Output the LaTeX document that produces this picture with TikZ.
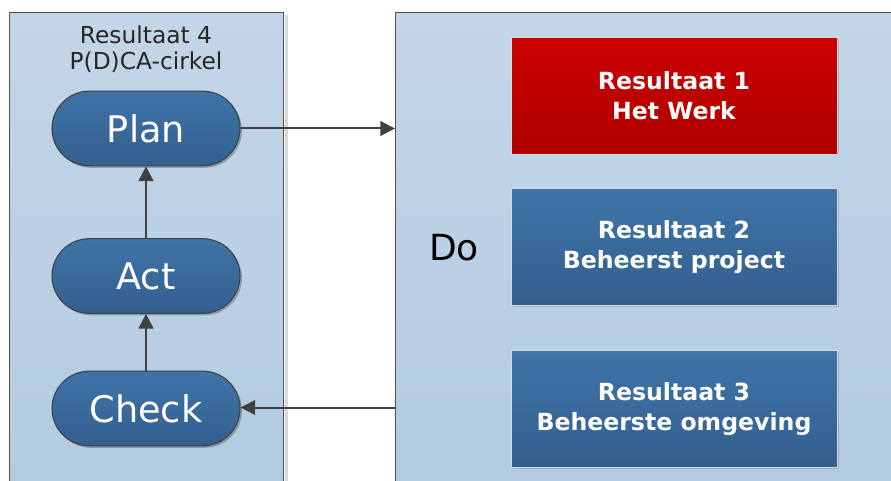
\documentclass[tikz,border=0pt]{standalone}
\usepackage{fontspec}
\setmainfont{DejaVu Sans}
\usetikzlibrary{arrows.meta,shadows}
\definecolor{panelTop}{HTML}{C3D6E8}
\definecolor{panelBot}{HTML}{B2CBE1}
\definecolor{pillTop}{HTML}{3F74A8}
\definecolor{pillBot}{HTML}{335F8E}
\definecolor{redTop}{HTML}{CC0000}
\definecolor{redBot}{HTML}{AE0000}
\definecolor{edge}{HTML}{505050}
\definecolor{arr}{HTML}{404040}
\tikzset{
  panel/.style={draw=edge, line width=0.9pt, top color=panelTop, bottom color=panelBot, inner sep=0pt},
  pill/.style={draw=black!75, line width=0.8pt, top color=pillTop, bottom color=pillBot,
    rounded corners=28pt, minimum width=141pt, minimum height=56pt, inner sep=0pt,
    text=white, font=\fontsize{27.5}{30}\selectfont,
    drop shadow={shadow xshift=1.5pt, shadow yshift=-1.5pt, opacity=0.25, fill=black}},
  resbox/.style={draw=white!70!gray, line width=0.5pt, minimum width=244.5pt, minimum height=87.5pt,
    inner sep=0pt, text=white, align=center, font=\bfseries\fontsize{17.7}{22.5}\selectfont,
    drop shadow={shadow xshift=1.2pt, shadow yshift=-1.2pt, opacity=0.15, fill=black}},
  bluebox/.style={resbox, top color=pillTop, bottom color=pillBot},
  redbox/.style={resbox, top color=redTop, bottom color=redBot},
  conn/.style={draw=arr, line width=1.5pt, -{Triangle[length=11pt,width=11pt]}}
}
\begin{document}
\begin{tikzpicture}[x=0.75pt, y=-0.75pt]
\useasboundingbox (0,0) rectangle (891,481);
\fill[white] (0,0) rectangle (891,481);
\clip (0,0) rectangle (891,481);
% panel shadows
\fill[black!15] (285,15) rectangle (288,495);
% panels
\node[panel, minimum width=205.5pt, minimum height=360pt, anchor=north west] (leftp) at (9,12) {};
\node[panel, minimum width=380pt, minimum height=360pt, anchor=north west] (rightp) at (395,12) {};
% title
\node[align=center, font=\fontsize{17.5}{19.5}\selectfont, text=black!85] (title) at (146,49) {Resultaat 4\\P(D)CA-cirkel};
% pills
\node[pill] (plan) at (146,128.5) {Plan};
\node[pill] (act) at (146,276) {Act};
\node[pill] (check) at (146,408.5) {Check};
% Do
\node[font=\fontsize{27}{30}\selectfont] (do) at (454,248) {Do};
% result boxes
\node[redbox] (r1) at (674,95.5) {Resultaat 1\\Het Werk};
\node[bluebox] (r2) at (674,247) {Resultaat 2\\Beheerst project};
\node[bluebox] (r3) at (674,409) {Resultaat 3\\Beheerste omgeving};
% connectors
\draw[conn] (check.north) -- (act.south);
\draw[conn] (act.north) -- (plan.south);
\draw[conn] (plan.east) -- (plan.east -| rightp.west);
\coordinate (cin) at (395,407.5);
\draw[conn] (cin) -- (cin -| check.east);
\end{tikzpicture}
\end{document}
